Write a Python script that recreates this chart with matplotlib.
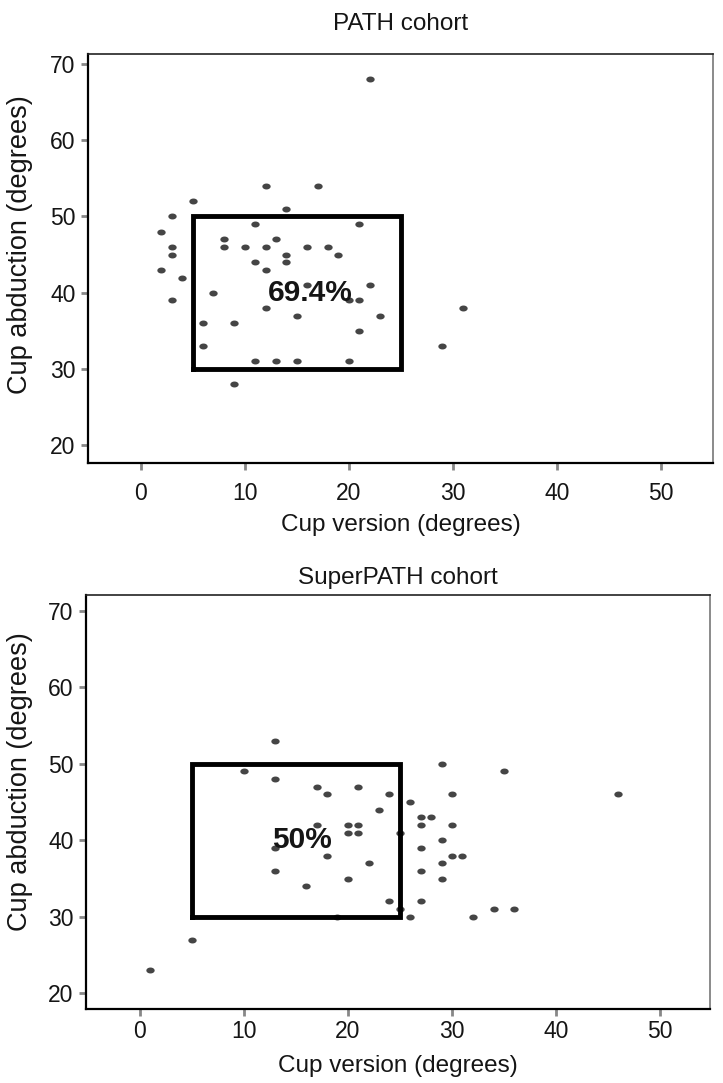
import matplotlib
matplotlib.use("Agg")
import matplotlib.pyplot as plt
import numpy as np
from matplotlib.path import Path

plt.rcParams['font.family'] = ['Liberation Sans', 'DejaVu Sans']

# PATH cohort (cup version, cup abduction)
path_x = [22, 12, 17, 5, 3, 14, 11, 21, 2, 8, 8, 10, 12, 13, 16, 18, 19, 14, 14, 11,
          12, 3, 3, 2, 4, 7, 3, 22, 16, 21, 20, 12, 15, 23, 31, 6, 9, 21, 6, 29,
          11, 13, 15, 20, 9]
path_y = [68, 54, 54, 52, 50, 51, 49, 49, 48, 47, 46, 46, 46, 47, 46, 46, 45, 45, 44, 44,
          43, 46, 45, 43, 42, 40, 39, 41, 41, 39, 39, 38, 37, 37, 38, 36, 36, 35, 33, 33,
          31, 31, 31, 31, 28]

# SuperPATH cohort
super_x = [13, 10, 13, 17, 18, 21, 24, 23, 17, 20, 21, 20, 21, 29, 35, 46, 30, 26, 27, 28,
           27, 30, 25, 29, 13, 27, 18, 30, 31, 22, 29, 13, 27, 20, 29, 16, 24, 27, 25, 26,
           32, 34, 36, 19, 5, 1]
super_y = [53, 49, 48, 47, 46, 47, 46, 44, 42, 42, 42, 41, 41, 50, 49, 46, 46, 45, 43, 43,
           42, 42, 41, 40, 39, 39, 38, 38, 38, 37, 37, 36, 36, 35, 35, 34, 32, 32, 31, 30,
           30, 31, 31, 30, 27, 23]

# Safe zone box (version 5-25, abduction 30-50)
box_x = [5, 25]
box_y = [30, 50]

titles = ["PATH cohort", "SuperPATH cohort"]
pct_labels = ["69.4%", "50%"]
xticks = [0, 10, 20, 30, 40, 50]
yticks = [20, 30, 40, 50, 60, 70]

# slightly wide elliptical dot marker
t = np.linspace(0, 2 * np.pi, 40)
dot = Path(np.column_stack([1.4 * np.cos(t), np.sin(t)]), closed=True)

fig = plt.figure(figsize=(7.23, 10.83), dpi=100)
ax1 = fig.add_axes([0.1217, 0.5725, 0.8645, 0.3777])
ax2 = fig.add_axes([0.119, 0.068, 0.863, 0.3826])

panels = [
    # ax, xs, ys, xlim, ylim, text pos, title pad, xtick pad, xlabel pad, ylabel x, ylabel y
    (ax1, path_x, path_y, (-5.06, 55.0), (17.7, 71.3), (16.3, 40.0), 17, 9, 6, -0.088, 0.535),
    (ax2, super_x, super_y, (-5.16, 54.8), (17.9, 72.05), (15.6, 40.0), 8, 3, 8, -0.085, 0.55),
]

for i, (ax, xs, ys, xl, yl, tpos, tpad, xpad, lpad, lx, ly) in enumerate(panels):
    ax.plot(xs, ys, linestyle='none', marker=dot, markersize=6.0,
            color='#454545', markeredgewidth=0)
    bx = [box_x[0], box_x[1], box_x[1], box_x[0], box_x[0]]
    by = [box_y[0], box_y[0], box_y[1], box_y[1], box_y[0]]
    ax.plot(bx, by, color='black', linewidth=3.5, solid_joinstyle='miter')
    ax.text(tpos[0], tpos[1], pct_labels[i], ha='center', va='center',
            fontsize=21.5, fontweight='bold', color='#151515')
    ax.set_xlim(*xl)
    ax.set_ylim(*yl)
    ax.set_xticks(xticks)
    ax.set_yticks(yticks)
    ax.tick_params(axis='both', direction='out', length=5, width=2,
                   color='#888888', labelsize=16.5, labelcolor='#151515', pad=4)
    ax.tick_params(axis='x', pad=xpad)
    ax.set_xlabel("Cup version (degrees)", fontsize=17.5, color='#151515', labelpad=lpad)
    ax.set_ylabel("Cup abduction (degrees)", fontsize=19.5, color='#151515')
    ax.yaxis.set_label_coords(lx, ly)
    ax.set_title(titles[i], fontsize=17.5, color='#151515', pad=tpad)
    ax.spines['left'].set_linewidth(1.6)
    ax.spines['bottom'].set_linewidth(1.6)
    ax.spines['top'].set_linewidth(1.2)
    ax.spines['right'].set_linewidth(1.2)
    ax.spines['right'].set_color('#777777')
    ax.spines['top'].set_color('#222222')

fig.savefig("out.png", dpi=100, facecolor='white')
